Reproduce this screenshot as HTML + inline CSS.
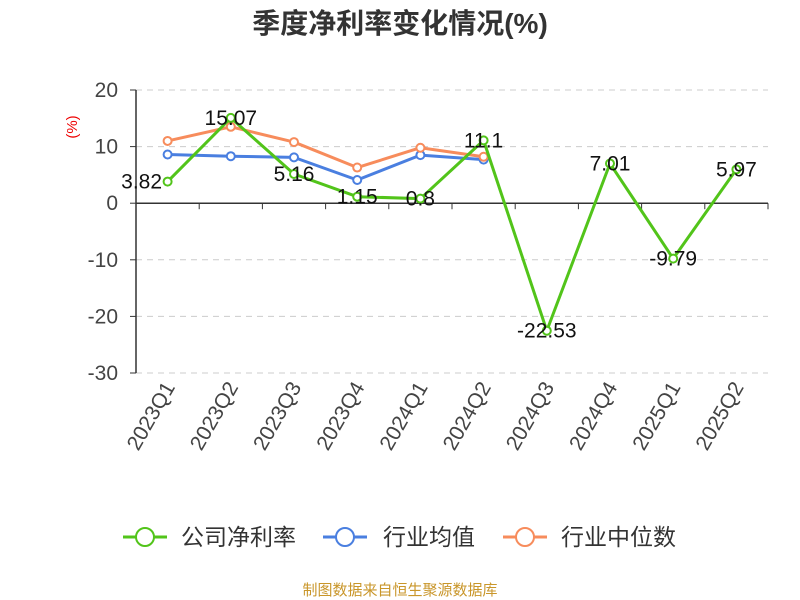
<!DOCTYPE html>
<html><head><meta charset="utf-8"><style>
body{margin:0;background:#fff}
svg{display:block;font-family:"Liberation Sans","Noto Sans CJK SC",sans-serif}
</style></head><body>
<svg id="c" width="800" height="600">
<text x="400" y="33" text-anchor="middle" font-size="28" font-weight="bold" fill="#333">季度净利率变化情况(%)</text>
<text transform="translate(77,127) rotate(-90)" text-anchor="middle" font-size="15" fill="#e00">(%)</text>
<g id="grid"></g><g id="axes"></g><g id="series"></g>
<g>
<g><line x1="123" y1="537" x2="167" y2="537" stroke="#52c41a" stroke-width="3"/><circle cx="145" cy="537" r="9" fill="#fff" stroke="#52c41a" stroke-width="2"/><text x="181" y="545" font-size="23" fill="#333">公司净利率</text></g>
<g><line x1="323" y1="537" x2="367" y2="537" stroke="#4a7fe0" stroke-width="3"/><circle cx="345" cy="537" r="9" fill="#fff" stroke="#4a7fe0" stroke-width="2"/><text x="383" y="545" font-size="23" fill="#333">行业均值</text></g>
<g><line x1="503" y1="537" x2="547" y2="537" stroke="#f78c5c" stroke-width="3"/><circle cx="525" cy="537" r="9" fill="#fff" stroke="#f78c5c" stroke-width="2"/><text x="561" y="545" font-size="23" fill="#333">行业中位数</text></g>
</g>
<text x="400" y="595" text-anchor="middle" font-size="15" fill="#c9962a">制图数据来自恒生聚源数据库</text>
</svg>
<script>
const categories=["2023Q1","2023Q2","2023Q3","2023Q4","2024Q1","2024Q2","2024Q3","2024Q4","2025Q1","2025Q2"];
const companyValues=[3.82,15.07,5.16,1.15,0.8,11.1,-22.53,7.01,-9.79,5.97];
const industryAvg=[8.6,8.3,8.1,4.1,8.5,7.7];
const industryMedian=[11.0,13.5,10.8,6.3,9.8,8.2];
const yTicks=[20,10,0,-10,-20,-30];
const NS="http://www.w3.org/2000/svg";
const x0=136,x1=768,yTop=90,yBot=373,vMax=20,vMin=-30;
const bw=(x1-x0)/categories.length;
const X=i=>x0+bw*(i+0.5);
const Y=v=>yTop+(vMax-v)/(vMax-vMin)*(yBot-yTop);
function mk(t,a,p){const e=document.createElementNS(NS,t);for(const k in a)e.setAttribute(k,a[k]);p.appendChild(e);return e;}
const grid=document.getElementById('grid'),axes=document.getElementById('axes'),ser=document.getElementById('series');
yTicks.forEach(v=>{
 if(v!==0){const l=mk('line',{x1:x0,x2:x1,y1:Y(v),y2:Y(v),stroke:'#ccc','stroke-dasharray':'6,5'},grid);
 
 }
 const t=mk('text',{x:118,y:Y(v)+7,'text-anchor':'end','font-size':21,fill:'#444'},axes);t.textContent=v;
 
 
 mk('line',{x1:x0-6,x2:x0,y1:Y(v),y2:Y(v),stroke:'#333'},axes);
});
const ya=mk('line',{x1:x0,x2:x0,y1:yTop,y2:yBot,stroke:'#333','stroke-width':1.5},axes);


const xa=mk('line',{x1:x0,x2:x1,y1:Y(0),y2:Y(0),stroke:'#333','stroke-width':1.5},axes);


for(let i=0;i<=categories.length;i++)mk('line',{x1:x0+bw*i,x2:x0+bw*i,y1:Y(0),y2:Y(0)+6,stroke:'#333'},axes);
categories.forEach((c,i)=>{
 const t=mk('text',{transform:`translate(${X(i)+8},${yBot+14}) rotate(-60)`,'text-anchor':'end','font-size':21,fill:'#444'},axes);
 t.textContent=c;
 
 
});
function series(vals,color,name){
 const g=mk('g',{},ser);
 
 
 mk('polyline',{points:vals.map((v,i)=>X(i)+','+Y(v)).join(' '),fill:'none',stroke:color,'stroke-width':3,'stroke-linejoin':'round'},g);
 vals.forEach((v,i)=>{const c=mk('circle',{cx:X(i),cy:Y(v),r:4,fill:'#fff',stroke:color,'stroke-width':2},g);
 
 });
}
series(industryAvg,'#4a7fe0','industry-avg-line');
series(industryMedian,'#f78c5c','industry-median-line');
series(companyValues,'#52c41a','company-line');
companyValues.forEach((v,i)=>{
 const dx=i===0?-26:0;
 const t=mk('text',{x:X(i)+dx,y:Y(v)+7,'text-anchor':'middle','font-size':21,fill:'#111'},ser);
 t.textContent=v;
 
 
});
</script>
</body></html>
